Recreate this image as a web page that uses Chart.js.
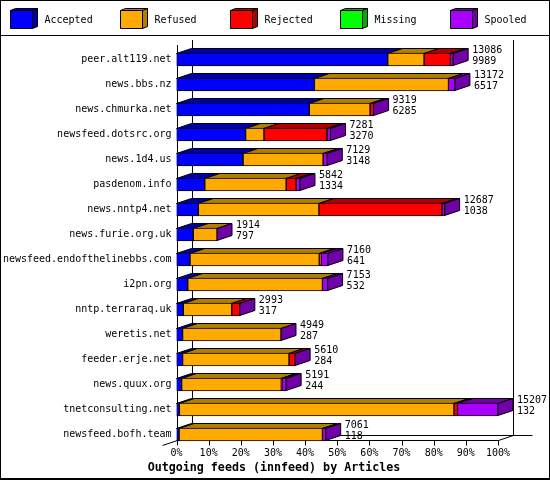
<!DOCTYPE html>
<html>
<head>
<meta charset="utf-8">
<title>Outgoing feeds</title>
<style>
  html, body { margin: 0; padding: 0; background: #fff; }
  canvas { display: block; }
</style>
<script src="https://cdn.jsdelivr.net/npm/chart.js@4"></script>
</head>
<body>
<canvas id="feeds" width="550" height="480"></canvas>
<script>
// values are percent of the largest feed (15207 articles)
const hosts = ['peer.alt119.net', 'news.bbs.nz', 'news.chmurka.net', 'newsfeed.dotsrc.org',
  'news.1d4.us', 'pasdenom.info', 'news.nntp4.net', 'news.furie.org.uk',
  'newsfeed.endofthelinebbs.com', 'i2pn.org', 'nntp.terraraq.uk', 'weretis.net',
  'feeder.erje.net', 'news.quux.org', 'tnetconsulting.net', 'newsfeed.bofh.team'];
const accepted = [65.7, 42.9, 41.3, 21.5, 20.7, 8.8, 6.8, 5.2, 4.2, 3.5, 2.1, 1.9, 1.9, 1.6, 0.9, 0.8];
const refused = [11.3, 41.7, 18.9, 5.7, 24.9, 25.3, 37.5, 7.4, 40.2, 41.9, 15.1, 30.6, 33.1, 31.0, 85.4, 44.6];
const rejected = [8.2, 0, 1.1, 19.6, 0, 3.1, 38.3, 0, 0.6, 0, 2.5, 0, 1.9, 0.2, 1.1, 0];
const missing = [0, 0, 0, 0, 0, 0, 0, 0, 0, 0, 0, 0, 0, 0, 0, 0];
const spooled = [0.85, 2.0, 0, 1.1, 1.3, 1.2, 0.8, 0, 2.1, 1.6, 0, 0, 0, 1.3, 12.6, 1.0];
const totalLabels = ['13086', '13172', '9319', '7281', '7129', '5842', '12687', '1914',
  '7160', '7153', '2993', '4949', '5610', '5191', '15207', '7061'];
const acceptedLabels = ['9989', '6517', '6285', '3270', '3148', '1334', '1038', '797',
  '641', '532', '317', '287', '284', '244', '132', '118'];
const seriesNames = ['Accepted', 'Refused', 'Rejected', 'Missing', 'Spooled'];

const frontColors = ['#0000ff', '#ffaa00', '#ff0000', '#00ff00', '#aa00ff'];
const darkColors = ['#0000aa', '#b07f00', '#b00000', '#00aa00', '#7000a8'];

const monoFont = '"DejaVu Sans Mono", "Liberation Mono", monospace';
const depthX = 15;
const depthY = 5;

function poly(ctx, points, fill) {
  ctx.beginPath();
  points.forEach((p, i) => i ? ctx.lineTo(p[0], p[1]) : ctx.moveTo(p[0], p[1]));
  ctx.closePath();
  ctx.fillStyle = fill;
  ctx.fill();
  ctx.strokeStyle = '#000';
  ctx.lineWidth = 1;
  ctx.stroke();
}

function line(ctx, x1, y1, x2, y2) {
  ctx.beginPath();
  ctx.moveTo(x1, y1);
  ctx.lineTo(x2, y2);
  ctx.strokeStyle = '#000';
  ctx.lineWidth = 1;
  ctx.stroke();
}

// back walls, floor, tick marks and the top/side faces of the bars
const box3d = {
  id: 'box3d',
  afterLayout(chart) {
    // title is centred on the whole picture, not the plot side
    chart.titleBlock.left = 0;
    chart.titleBlock.right = 548;
  },
  beforeDatasetsDraw(chart) {
    const ctx = chart.ctx;
    const x = chart.scales.x;
    const left = Math.round(x.getPixelForValue(0)) + 0.5;
    const right = Math.round(x.getPixelForValue(100)) + 0.5;
    const floor = chart.chartArea.bottom - 6.5;
    const top = chart.chartArea.top - 2;

    ctx.save();
    line(ctx, left + depthX, top - depthY, left + depthX, floor - depthY);
    line(ctx, right + depthX, top - depthY, right + depthX, floor - depthY);
    line(ctx, left + depthX, floor - depthY, right + depthX + 19, floor - depthY);
    line(ctx, left, top, left, floor);
    line(ctx, left, floor, right, floor);
    line(ctx, left - depthX, floor + depthY, left + depthX, floor - depthY);
    line(ctx, right, floor, right + depthX, floor - depthY);
    for (let v = 0; v <= 100; v += 10) {
      const px = Math.round(x.getPixelForValue(v)) + 0.5;
      line(ctx, px, floor, px, floor + 5);
    }

    hosts.forEach((host, row) => {
      let end = 0;
      let front = 0;
      seriesNames.forEach((name, s) => {
        const bar = chart.getDatasetMeta(s).data[row];
        const t = bar.y - bar.height / 2 + 0.5;
        front = t;
        end = bar.x;
        if (bar.x - bar.base <= 0) return;
        poly(ctx, [[bar.base, t], [bar.base + depthX, t - depthY],
          [bar.x + depthX, t - depthY], [bar.x, t]], darkColors[s]);
      });
      const h = chart.getDatasetMeta(0).data[row].height - 1;
      poly(ctx, [[end, front], [end + depthX, front - depthY],
        [end + depthX, front + h - depthY], [end, front + h]], darkColors[4]);
    });
    ctx.restore();
  },
  afterDatasetsDraw(chart) {
    const ctx = chart.ctx;
    ctx.save();
    ctx.fillStyle = '#000';
    ctx.font = '10px ' + monoFont;
    ctx.textBaseline = 'middle';
    ctx.textAlign = 'left';
    hosts.forEach((host, row) => {
      const bar = chart.getDatasetMeta(4).data[row];
      const t = bar.y - bar.height / 2;
      ctx.fillText(totalLabels[row], bar.x + depthX + 4, t - 3);
      ctx.fillText(acceptedLabels[row], bar.x + depthX + 4, t + 8);
    });
    ctx.restore();
  },
  afterDraw(chart) {
    const ctx = chart.ctx;
    ctx.save();
    // frame and legend strip
    ctx.fillStyle = '#000';
    ctx.fillRect(0, 0, 550, 1);
    ctx.fillRect(0, 0, 1, 480);
    ctx.fillRect(549, 0, 1, 480);
    ctx.fillRect(0, 478, 550, 2);
    ctx.fillRect(0, 35, 550, 1);

    ctx.font = '10px ' + monoFont;
    ctx.textBaseline = 'middle';
    ctx.textAlign = 'left';
    seriesNames.forEach((name, s) => {
      const bx = 10.5 + s * 110;
      const by = 10.5;
      poly(ctx, [[bx, by], [bx + 5, by - 2], [bx + 27, by - 2], [bx + 22, by]], darkColors[s]);
      poly(ctx, [[bx + 22, by], [bx + 27, by - 2], [bx + 27, by + 16], [bx + 22, by + 18]], darkColors[s]);
      poly(ctx, [[bx, by], [bx + 22, by], [bx + 22, by + 18], [bx, by + 18]], frontColors[s]);
      ctx.fillStyle = '#000';
      ctx.fillText(name, bx + 34, 20);
    });
    ctx.restore();
  }
};

const seriesValues = [accepted, refused, rejected, missing, spooled];

new Chart(document.getElementById('feeds'), {
  type: 'bar',
  plugins: [box3d],
  data: {
    labels: hosts,
    datasets: seriesNames.map((name, s) => ({
      label: name,
      data: seriesValues[s],
      backgroundColor: frontColors[s],
      borderColor: '#000',
      borderWidth: 1,
      borderSkipped: false,
      barThickness: 13
    }))
  },
  options: {
    indexAxis: 'y',
    responsive: false,
    animation: false,
    devicePixelRatio: 1,
    layout: { padding: { top: 47, right: 52, bottom: 5, left: 0 } },
    scales: {
      x: {
        stacked: true,
        min: 0,
        max: 100,
        grid: { display: false, drawTicks: false },
        border: { display: false },
        afterFit(scale) { scale.height = 12; },
        ticks: {
          stepSize: 10,
          autoSkip: false,
          maxRotation: 0,
          padding: 0,
          color: '#000',
          font: { family: monoFont, size: 10 },
          callback: v => v + '%'
        }
      },
      y: {
        stacked: true,
        grid: { display: false, drawTicks: false },
        border: { display: false },
        afterFit(scale) { scale.width = 176.5; },
        ticks: {
          autoSkip: false,
          padding: 5,
          color: '#000',
          font: { family: monoFont, size: 10 }
        }
      }
    },
    plugins: {
      legend: { display: false },
      tooltip: { enabled: false },
      title: {
        display: true,
        position: 'bottom',
        text: 'Outgoing feeds (innfeed) by Articles',
        color: '#000',
        padding: { top: 2, bottom: 0 },
        font: { family: monoFont, size: 11.67, weight: 'bold' }
      }
    }
  }
});
</script>
</body>
</html>
